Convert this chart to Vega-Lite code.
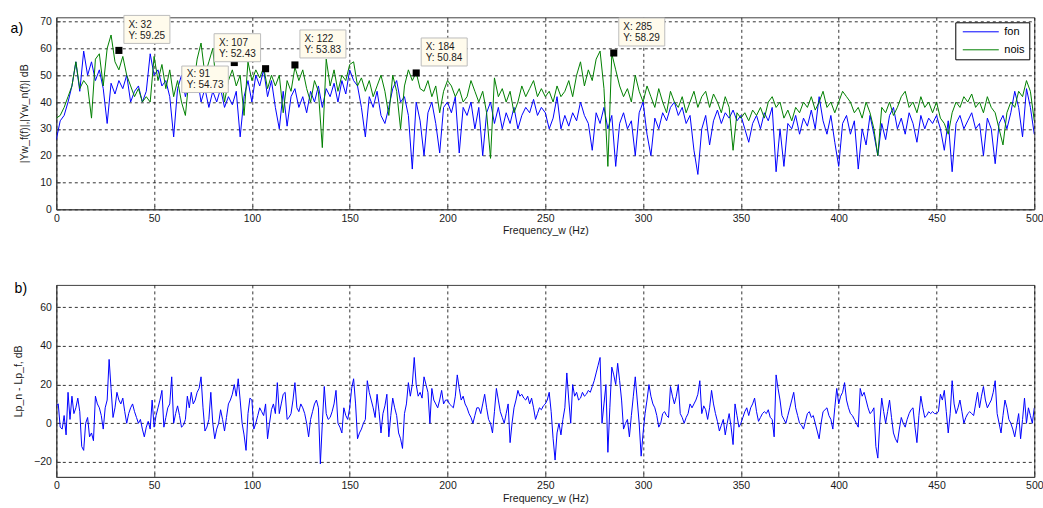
{
"$schema":"https://vega.github.io/schema/vega-lite/v6.json",
"padding":{"left":9.3,"top":12.3,"right":0,"bottom":0},
"spacing":75.6,
"bounds":"flush",
"datasets":{
"spec":[{"f":0,"fon":26,"nois":34},{"f":2,"fon":33,"nois":35},{"f":4,"fon":35,"nois":38},{"f":6,"fon":40,"nois":42},{"f":8,"fon":46,"nois":46},{"f":10,"fon":55,"nois":55},{"f":12,"fon":44,"nois":45},{"f":14,"fon":59,"nois":48},{"f":16,"fon":50,"nois":46},{"f":18,"fon":55,"nois":34},{"f":20,"fon":48,"nois":56},{"f":22,"fon":52,"nois":58},{"f":24,"fon":45,"nois":46},{"f":26,"fon":32,"nois":60},{"f":28,"fon":47,"nois":65},{"f":30,"fon":43,"nois":55},{"f":32,"fon":48,"nois":52},{"f":34,"fon":45,"nois":57},{"f":36,"fon":50,"nois":50},{"f":38,"fon":40,"nois":46},{"f":40,"fon":44,"nois":42},{"f":42,"fon":46,"nois":45},{"f":44,"fon":40,"nois":40},{"f":46,"fon":44,"nois":42},{"f":48,"fon":58,"nois":40},{"f":50,"fon":50,"nois":57},{"f":52,"fon":52,"nois":48},{"f":54,"fon":46,"nois":54},{"f":56,"fon":48,"nois":45},{"f":58,"fon":42,"nois":52},{"f":60,"fon":27,"nois":42},{"f":62,"fon":45,"nois":48},{"f":64,"fon":50,"nois":40},{"f":66,"fon":42,"nois":35},{"f":68,"fon":48,"nois":50},{"f":70,"fon":44,"nois":45},{"f":72,"fon":50,"nois":56},{"f":74,"fon":40,"nois":62},{"f":76,"fon":45,"nois":50},{"f":78,"fon":38,"nois":55},{"f":80,"fon":44,"nois":60},{"f":82,"fon":40,"nois":45},{"f":84,"fon":45,"nois":52},{"f":86,"fon":38,"nois":40},{"f":88,"fon":42,"nois":48},{"f":90,"fon":39,"nois":52},{"f":92,"fon":44,"nois":46},{"f":94,"fon":27,"nois":50},{"f":96,"fon":42,"nois":35},{"f":98,"fon":48,"nois":55},{"f":100,"fon":40,"nois":48},{"f":102,"fon":50,"nois":52},{"f":104,"fon":46,"nois":49},{"f":106,"fon":52,"nois":53},{"f":108,"fon":42,"nois":45},{"f":110,"fon":48,"nois":50},{"f":112,"fon":38,"nois":46},{"f":114,"fon":30,"nois":50},{"f":116,"fon":44,"nois":36},{"f":118,"fon":31,"nois":48},{"f":120,"fon":42,"nois":44},{"f":122,"fon":45,"nois":53},{"f":124,"fon":38,"nois":48},{"f":126,"fon":42,"nois":52},{"f":128,"fon":36,"nois":45},{"f":130,"fon":44,"nois":40},{"f":132,"fon":40,"nois":48},{"f":134,"fon":46,"nois":44},{"f":136,"fon":38,"nois":23},{"f":138,"fon":45,"nois":56},{"f":140,"fon":42,"nois":46},{"f":142,"fon":47,"nois":52},{"f":144,"fon":40,"nois":44},{"f":146,"fon":48,"nois":50},{"f":148,"fon":43,"nois":48},{"f":150,"fon":52,"nois":54},{"f":152,"fon":48,"nois":55},{"f":154,"fon":46,"nois":46},{"f":156,"fon":38,"nois":49},{"f":158,"fon":27,"nois":44},{"f":160,"fon":42,"nois":48},{"f":162,"fon":38,"nois":42},{"f":164,"fon":44,"nois":46},{"f":166,"fon":35,"nois":50},{"f":168,"fon":32,"nois":44},{"f":170,"fon":38,"nois":35},{"f":172,"fon":45,"nois":50},{"f":174,"fon":48,"nois":44},{"f":176,"fon":40,"nois":30},{"f":178,"fon":42,"nois":46},{"f":180,"fon":35,"nois":52},{"f":182,"fon":15,"nois":48},{"f":184,"fon":40,"nois":51},{"f":186,"fon":33,"nois":45},{"f":188,"fon":20,"nois":44},{"f":190,"fon":36,"nois":48},{"f":192,"fon":40,"nois":42},{"f":194,"fon":32,"nois":46},{"f":196,"fon":21,"nois":36},{"f":198,"fon":38,"nois":44},{"f":200,"fon":40,"nois":48},{"f":202,"fon":36,"nois":46},{"f":204,"fon":42,"nois":42},{"f":206,"fon":21,"nois":45},{"f":208,"fon":38,"nois":40},{"f":210,"fon":35,"nois":42},{"f":212,"fon":40,"nois":48},{"f":214,"fon":30,"nois":44},{"f":216,"fon":38,"nois":40},{"f":218,"fon":20,"nois":44},{"f":220,"fon":36,"nois":36},{"f":222,"fon":40,"nois":19},{"f":224,"fon":32,"nois":49},{"f":226,"fon":38,"nois":42},{"f":228,"fon":30,"nois":45},{"f":230,"fon":36,"nois":40},{"f":232,"fon":32,"nois":44},{"f":234,"fon":38,"nois":36},{"f":236,"fon":30,"nois":40},{"f":238,"fon":35,"nois":46},{"f":240,"fon":38,"nois":42},{"f":242,"fon":36,"nois":45},{"f":244,"fon":41,"nois":48},{"f":246,"fon":35,"nois":42},{"f":248,"fon":38,"nois":45},{"f":250,"fon":36,"nois":42},{"f":252,"fon":30,"nois":44},{"f":254,"fon":34,"nois":40},{"f":256,"fon":42,"nois":46},{"f":258,"fon":30,"nois":42},{"f":260,"fon":35,"nois":44},{"f":262,"fon":31,"nois":48},{"f":264,"fon":36,"nois":42},{"f":266,"fon":33,"nois":50},{"f":268,"fon":40,"nois":55},{"f":270,"fon":35,"nois":46},{"f":272,"fon":32,"nois":52},{"f":274,"fon":22,"nois":48},{"f":276,"fon":36,"nois":56},{"f":278,"fon":32,"nois":59},{"f":280,"fon":38,"nois":45},{"f":282,"fon":30,"nois":16},{"f":284,"fon":35,"nois":58},{"f":286,"fon":16,"nois":52},{"f":288,"fon":32,"nois":46},{"f":290,"fon":36,"nois":42},{"f":292,"fon":30,"nois":45},{"f":294,"fon":33,"nois":40},{"f":296,"fon":20,"nois":50},{"f":298,"fon":36,"nois":44},{"f":300,"fon":40,"nois":40},{"f":302,"fon":28,"nois":46},{"f":304,"fon":20,"nois":42},{"f":306,"fon":34,"nois":38},{"f":308,"fon":30,"nois":45},{"f":310,"fon":36,"nois":40},{"f":312,"fon":33,"nois":36},{"f":314,"fon":38,"nois":44},{"f":316,"fon":40,"nois":40},{"f":318,"fon":35,"nois":38},{"f":320,"fon":38,"nois":42},{"f":322,"fon":32,"nois":36},{"f":324,"fon":35,"nois":40},{"f":326,"fon":22,"nois":44},{"f":328,"fon":13,"nois":38},{"f":330,"fon":30,"nois":42},{"f":332,"fon":35,"nois":44},{"f":334,"fon":24,"nois":38},{"f":336,"fon":33,"nois":43},{"f":338,"fon":37,"nois":40},{"f":340,"fon":32,"nois":36},{"f":342,"fon":36,"nois":42},{"f":344,"fon":34,"nois":38},{"f":346,"fon":37,"nois":22},{"f":348,"fon":33,"nois":36},{"f":350,"fon":35,"nois":34},{"f":352,"fon":30,"nois":36},{"f":354,"fon":25,"nois":33},{"f":356,"fon":32,"nois":37},{"f":358,"fon":35,"nois":35},{"f":360,"fon":30,"nois":38},{"f":362,"fon":36,"nois":34},{"f":364,"fon":33,"nois":40},{"f":366,"fon":38,"nois":42},{"f":368,"fon":14,"nois":38},{"f":370,"fon":30,"nois":40},{"f":372,"fon":16,"nois":34},{"f":374,"fon":32,"nois":37},{"f":376,"fon":30,"nois":33},{"f":378,"fon":35,"nois":38},{"f":380,"fon":28,"nois":36},{"f":382,"fon":34,"nois":40},{"f":384,"fon":31,"nois":38},{"f":386,"fon":37,"nois":42},{"f":388,"fon":30,"nois":37},{"f":390,"fon":42,"nois":40},{"f":392,"fon":33,"nois":44},{"f":394,"fon":28,"nois":38},{"f":396,"fon":35,"nois":40},{"f":398,"fon":25,"nois":36},{"f":400,"fon":16,"nois":40},{"f":402,"fon":32,"nois":44},{"f":404,"fon":35,"nois":42},{"f":406,"fon":28,"nois":40},{"f":408,"fon":33,"nois":36},{"f":410,"fon":15,"nois":38},{"f":412,"fon":30,"nois":34},{"f":414,"fon":24,"nois":40},{"f":416,"fon":35,"nois":36},{"f":418,"fon":28,"nois":30},{"f":420,"fon":20,"nois":20},{"f":422,"fon":32,"nois":38},{"f":424,"fon":26,"nois":36},{"f":426,"fon":35,"nois":40},{"f":428,"fon":38,"nois":35},{"f":430,"fon":30,"nois":38},{"f":432,"fon":34,"nois":42},{"f":434,"fon":28,"nois":44},{"f":436,"fon":36,"nois":38},{"f":438,"fon":32,"nois":40},{"f":440,"fon":25,"nois":36},{"f":442,"fon":35,"nois":42},{"f":444,"fon":30,"nois":38},{"f":446,"fon":34,"nois":40},{"f":448,"fon":32,"nois":36},{"f":450,"fon":35,"nois":40},{"f":452,"fon":30,"nois":34},{"f":454,"fon":22,"nois":32},{"f":456,"fon":33,"nois":28},{"f":458,"fon":14,"nois":36},{"f":460,"fon":32,"nois":40},{"f":462,"fon":35,"nois":38},{"f":464,"fon":30,"nois":42},{"f":466,"fon":33,"nois":40},{"f":468,"fon":36,"nois":43},{"f":470,"fon":30,"nois":38},{"f":472,"fon":32,"nois":40},{"f":474,"fon":20,"nois":36},{"f":476,"fon":34,"nois":42},{"f":478,"fon":30,"nois":38},{"f":480,"fon":17,"nois":36},{"f":482,"fon":32,"nois":30},{"f":484,"fon":35,"nois":24},{"f":486,"fon":30,"nois":36},{"f":488,"fon":36,"nois":40},{"f":490,"fon":44,"nois":38},{"f":492,"fon":38,"nois":44},{"f":494,"fon":27,"nois":42},{"f":496,"fon":45,"nois":48},{"f":498,"fon":38,"nois":44},{"f":500,"fon":28,"nois":33}],
"tips":[{"f":32,"value":59.25},{"f":91,"value":54.73},{"f":107,"value":52.43},{"f":122,"value":53.83},{"f":184,"value":50.84},{"f":285,"value":58.29}],
"panel_a":[{"lab":"a)"}],
"panel_b":[{"lab":"b)"}],
"diff":[{"f":0,"d":9},{"f":1,"d":10},{"f":2,"d":-2},{"f":3,"d":-3},{"f":4,"d":4},{"f":5,"d":-6},{"f":6,"d":16},{"f":7,"d":2},{"f":8,"d":14},{"f":9,"d":5},{"f":10,"d":8},{"f":11,"d":13},{"f":12,"d":6},{"f":13,"d":-12},{"f":14,"d":-14},{"f":15,"d":0},{"f":16,"d":3},{"f":17,"d":-7},{"f":18,"d":-5},{"f":19,"d":-9},{"f":20,"d":14},{"f":21,"d":10},{"f":22,"d":8},{"f":23,"d":4},{"f":24,"d":-3},{"f":25,"d":8},{"f":26,"d":12},{"f":27,"d":33},{"f":28,"d":18},{"f":29,"d":3},{"f":30,"d":8},{"f":31,"d":16},{"f":32,"d":12},{"f":33,"d":10},{"f":34,"d":13},{"f":35,"d":6},{"f":36,"d":0},{"f":37,"d":5},{"f":38,"d":8},{"f":39,"d":10},{"f":40,"d":6},{"f":41,"d":3},{"f":42,"d":0},{"f":43,"d":2},{"f":44,"d":-3},{"f":45,"d":-7},{"f":46,"d":-2},{"f":47,"d":1},{"f":48,"d":-3},{"f":49,"d":12},{"f":50,"d":-2},{"f":51,"d":4},{"f":52,"d":8},{"f":53,"d":12},{"f":54,"d":17},{"f":55,"d":-2},{"f":56,"d":3},{"f":57,"d":8},{"f":58,"d":10},{"f":59,"d":24},{"f":60,"d":0},{"f":61,"d":5},{"f":62,"d":9},{"f":63,"d":4},{"f":64,"d":-2},{"f":65,"d":-1},{"f":66,"d":2},{"f":67,"d":14},{"f":68,"d":8},{"f":69,"d":16},{"f":70,"d":10},{"f":71,"d":12},{"f":72,"d":16},{"f":73,"d":18},{"f":74,"d":24},{"f":75,"d":8},{"f":76,"d":-4},{"f":77,"d":-2},{"f":78,"d":2},{"f":79,"d":16},{"f":80,"d":0},{"f":81,"d":-8},{"f":82,"d":-3},{"f":83,"d":0},{"f":84,"d":7},{"f":85,"d":2},{"f":86,"d":-4},{"f":87,"d":3},{"f":88,"d":10},{"f":89,"d":12},{"f":90,"d":15},{"f":91,"d":20},{"f":92,"d":14},{"f":93,"d":23},{"f":94,"d":12},{"f":95,"d":0},{"f":96,"d":-6},{"f":97,"d":-14},{"f":98,"d":5},{"f":99,"d":13},{"f":100,"d":12},{"f":101,"d":-3},{"f":102,"d":0},{"f":103,"d":4},{"f":104,"d":8},{"f":105,"d":6},{"f":106,"d":4},{"f":107,"d":10},{"f":108,"d":-8},{"f":109,"d":0},{"f":110,"d":7},{"f":111,"d":10},{"f":112,"d":5},{"f":113,"d":21},{"f":114,"d":5},{"f":115,"d":10},{"f":116,"d":15},{"f":117,"d":16},{"f":118,"d":2},{"f":119,"d":3},{"f":120,"d":5},{"f":121,"d":12},{"f":122,"d":21},{"f":123,"d":8},{"f":124,"d":6},{"f":125,"d":10},{"f":126,"d":8},{"f":127,"d":5},{"f":128,"d":0},{"f":129,"d":-7},{"f":130,"d":2},{"f":131,"d":6},{"f":132,"d":10},{"f":133,"d":12},{"f":134,"d":8},{"f":135,"d":-21},{"f":136,"d":0},{"f":137,"d":19},{"f":138,"d":5},{"f":139,"d":2},{"f":140,"d":3},{"f":141,"d":6},{"f":142,"d":10},{"f":143,"d":17},{"f":144,"d":0},{"f":145,"d":-2},{"f":146,"d":-5},{"f":147,"d":8},{"f":148,"d":4},{"f":149,"d":2},{"f":150,"d":8},{"f":151,"d":18},{"f":152,"d":23},{"f":153,"d":10},{"f":154,"d":-8},{"f":155,"d":-5},{"f":156,"d":-3},{"f":157,"d":0},{"f":158,"d":2},{"f":159,"d":22},{"f":160,"d":16},{"f":161,"d":12},{"f":162,"d":8},{"f":163,"d":3},{"f":164,"d":15},{"f":165,"d":6},{"f":166,"d":-5},{"f":167,"d":5},{"f":168,"d":9},{"f":169,"d":15},{"f":170,"d":-7},{"f":171,"d":4},{"f":172,"d":13},{"f":173,"d":8},{"f":174,"d":4},{"f":175,"d":-5},{"f":176,"d":-8},{"f":177,"d":-13},{"f":178,"d":5},{"f":179,"d":10},{"f":180,"d":21},{"f":181,"d":14},{"f":182,"d":20},{"f":183,"d":34},{"f":184,"d":20},{"f":185,"d":14},{"f":186,"d":16},{"f":187,"d":13},{"f":188,"d":24},{"f":189,"d":20},{"f":190,"d":16},{"f":191,"d":0},{"f":192,"d":18},{"f":193,"d":12},{"f":194,"d":10},{"f":195,"d":8},{"f":196,"d":12},{"f":197,"d":17},{"f":198,"d":10},{"f":199,"d":12},{"f":200,"d":12},{"f":201,"d":10},{"f":202,"d":9},{"f":203,"d":8},{"f":204,"d":14},{"f":205,"d":25},{"f":206,"d":18},{"f":207,"d":12},{"f":208,"d":14},{"f":209,"d":10},{"f":210,"d":8},{"f":211,"d":5},{"f":212,"d":3},{"f":213,"d":0},{"f":214,"d":4},{"f":215,"d":8},{"f":216,"d":8},{"f":217,"d":5},{"f":218,"d":10},{"f":219,"d":15},{"f":220,"d":8},{"f":221,"d":2},{"f":222,"d":0},{"f":223,"d":-5},{"f":224,"d":6},{"f":225,"d":18},{"f":226,"d":12},{"f":227,"d":6},{"f":228,"d":3},{"f":229,"d":0},{"f":230,"d":5},{"f":231,"d":10},{"f":232,"d":-10},{"f":233,"d":0},{"f":234,"d":8},{"f":235,"d":12},{"f":236,"d":17},{"f":237,"d":14},{"f":238,"d":15},{"f":239,"d":13},{"f":240,"d":12},{"f":241,"d":14},{"f":242,"d":10},{"f":243,"d":13},{"f":244,"d":8},{"f":245,"d":2},{"f":246,"d":5},{"f":247,"d":8},{"f":248,"d":7},{"f":249,"d":9},{"f":250,"d":10},{"f":251,"d":12},{"f":252,"d":16},{"f":253,"d":6},{"f":254,"d":-8},{"f":255,"d":-19},{"f":256,"d":-5},{"f":257,"d":0},{"f":258,"d":-6},{"f":259,"d":2},{"f":260,"d":8},{"f":261,"d":26},{"f":262,"d":12},{"f":263,"d":0},{"f":264,"d":20},{"f":265,"d":14},{"f":266,"d":16},{"f":267,"d":12},{"f":268,"d":13},{"f":269,"d":16},{"f":270,"d":14},{"f":271,"d":15},{"f":272,"d":17},{"f":273,"d":16},{"f":274,"d":19},{"f":275,"d":22},{"f":276,"d":26},{"f":277,"d":30},{"f":278,"d":34},{"f":279,"d":0},{"f":280,"d":10},{"f":281,"d":20},{"f":282,"d":-15},{"f":283,"d":8},{"f":284,"d":29},{"f":285,"d":25},{"f":286,"d":20},{"f":287,"d":31},{"f":288,"d":22},{"f":289,"d":12},{"f":290,"d":-3},{"f":291,"d":0},{"f":292,"d":2},{"f":293,"d":-7},{"f":294,"d":4},{"f":295,"d":14},{"f":296,"d":24},{"f":297,"d":12},{"f":298,"d":0},{"f":299,"d":-17},{"f":300,"d":-5},{"f":301,"d":5},{"f":302,"d":12},{"f":303,"d":20},{"f":304,"d":14},{"f":305,"d":10},{"f":306,"d":8},{"f":307,"d":4},{"f":308,"d":-2},{"f":309,"d":0},{"f":310,"d":5},{"f":311,"d":6},{"f":312,"d":4},{"f":313,"d":3},{"f":314,"d":19},{"f":315,"d":14},{"f":316,"d":10},{"f":317,"d":14},{"f":318,"d":20},{"f":319,"d":5},{"f":320,"d":3},{"f":321,"d":0},{"f":322,"d":3},{"f":323,"d":5},{"f":324,"d":10},{"f":325,"d":8},{"f":326,"d":10},{"f":327,"d":12},{"f":328,"d":15},{"f":329,"d":22},{"f":330,"d":5},{"f":331,"d":9},{"f":332,"d":7},{"f":333,"d":2},{"f":334,"d":8},{"f":335,"d":17},{"f":336,"d":10},{"f":337,"d":5},{"f":338,"d":1},{"f":339,"d":-4},{"f":340,"d":-1},{"f":341,"d":2},{"f":342,"d":-6},{"f":343,"d":0},{"f":344,"d":5},{"f":345,"d":-2},{"f":346,"d":-11},{"f":347,"d":10},{"f":348,"d":4},{"f":349,"d":-2},{"f":350,"d":0},{"f":351,"d":3},{"f":352,"d":6},{"f":353,"d":8},{"f":354,"d":4},{"f":355,"d":8},{"f":356,"d":10},{"f":357,"d":13},{"f":358,"d":6},{"f":359,"d":1},{"f":360,"d":3},{"f":361,"d":5},{"f":362,"d":6},{"f":363,"d":5},{"f":364,"d":7},{"f":365,"d":3},{"f":366,"d":2},{"f":367,"d":-7},{"f":368,"d":25},{"f":369,"d":18},{"f":370,"d":12},{"f":371,"d":4},{"f":372,"d":2},{"f":373,"d":0},{"f":374,"d":4},{"f":375,"d":8},{"f":376,"d":12},{"f":377,"d":16},{"f":378,"d":8},{"f":379,"d":4},{"f":380,"d":0},{"f":381,"d":-1},{"f":382,"d":-3},{"f":383,"d":1},{"f":384,"d":5},{"f":385,"d":6},{"f":386,"d":3},{"f":387,"d":4},{"f":388,"d":0},{"f":389,"d":-4},{"f":390,"d":-8},{"f":391,"d":0},{"f":392,"d":6},{"f":393,"d":7},{"f":394,"d":8},{"f":395,"d":4},{"f":396,"d":2},{"f":397,"d":-3},{"f":398,"d":8},{"f":399,"d":18},{"f":400,"d":10},{"f":401,"d":14},{"f":402,"d":16},{"f":403,"d":21},{"f":404,"d":12},{"f":405,"d":8},{"f":406,"d":5},{"f":407,"d":4},{"f":408,"d":2},{"f":409,"d":0},{"f":410,"d":-2},{"f":411,"d":18},{"f":412,"d":14},{"f":413,"d":16},{"f":414,"d":12},{"f":415,"d":8},{"f":416,"d":5},{"f":417,"d":6},{"f":418,"d":8},{"f":419,"d":-12},{"f":420,"d":-18},{"f":421,"d":0},{"f":422,"d":13},{"f":423,"d":6},{"f":424,"d":0},{"f":425,"d":6},{"f":426,"d":12},{"f":427,"d":3},{"f":428,"d":-5},{"f":429,"d":-8},{"f":430,"d":-10},{"f":431,"d":-3},{"f":432,"d":3},{"f":433,"d":0},{"f":434,"d":-2},{"f":435,"d":2},{"f":436,"d":5},{"f":437,"d":7},{"f":438,"d":8},{"f":439,"d":-2},{"f":440,"d":-10},{"f":441,"d":4},{"f":442,"d":14},{"f":443,"d":8},{"f":444,"d":3},{"f":445,"d":4},{"f":446,"d":6},{"f":447,"d":5},{"f":448,"d":6},{"f":449,"d":5},{"f":450,"d":5},{"f":451,"d":6},{"f":452,"d":15},{"f":453,"d":12},{"f":454,"d":17},{"f":455,"d":6},{"f":456,"d":-5},{"f":457,"d":5},{"f":458,"d":22},{"f":459,"d":10},{"f":460,"d":5},{"f":461,"d":8},{"f":462,"d":12},{"f":463,"d":6},{"f":464,"d":0},{"f":465,"d":3},{"f":466,"d":5},{"f":467,"d":6},{"f":468,"d":5},{"f":469,"d":4},{"f":470,"d":10},{"f":471,"d":16},{"f":472,"d":8},{"f":473,"d":14},{"f":474,"d":19},{"f":475,"d":12},{"f":476,"d":8},{"f":477,"d":10},{"f":478,"d":12},{"f":479,"d":16},{"f":480,"d":22},{"f":481,"d":5},{"f":482,"d":0},{"f":483,"d":-5},{"f":484,"d":4},{"f":485,"d":12},{"f":486,"d":8},{"f":487,"d":2},{"f":488,"d":0},{"f":489,"d":-3},{"f":490,"d":-7},{"f":491,"d":-1},{"f":492,"d":5},{"f":493,"d":-8},{"f":494,"d":2},{"f":495,"d":13},{"f":496,"d":0},{"f":497,"d":8},{"f":498,"d":4},{"f":499,"d":0},{"f":500,"d":8}]
},
"vconcat":[
{
"width":978,"height":192,
"layer":[
{
"encoding":{
"x":{"field":"f","type":"quantitative","scale":{"domain":[0,500],"nice":false,"zero":false},"axis":{"values":[0,50,100,150,200,250,300,350,400,450,500],"title":"Frequency_w (Hz)"}},
"y":{"field":"value","type":"quantitative","scale":{"domain":[0,71.6],"nice":false,"zero":false},"axis":{"values":[0,10,20,30,40,50,60,70],"title":"|Yw_f(f)|,|Yw_n(f)| dB"}}
},
"layer":[
{"data":{"name":"spec"},"transform":[{"fold":["fon","nois"],"as":["series","value"]}],
 "mark":{"type":"line","strokeWidth":1,"clip":true},
 "encoding":{"color":{"field":"series","type":"nominal","scale":{"domain":["fon","nois"],"range":["#0000ff","#008000"]},
  "legend":{"orient":"top-right","offset":5,"title":null,"fillColor":"#ffffff","strokeColor":"#000000","padding":4,"symbolType":"M-0.4,0L6.8,0","symbolSize":100,"symbolStrokeWidth":1,"labelOffset":34,"rowPadding":6,"labelFontSize":11,"labelFont":"Liberation Sans","labelColor":"#000000"}}}},
{"data":{"name":"tips"},"mark":{"type":"point","shape":"square","filled":true,"size":50,"color":"#000000","opacity":1}},
{"data":{"name":"tips"},"transform":[{"filter":"datum.f != 107 && datum.f != 91"}],"mark":{"type":"point","shape":"M0.1,-0.7L1.02,-0.7L1.02,-0.14L0.1,-0.14Z","size":10000,"filled":true,"fill":"#fffbec","stroke":"#bdbdbd","strokeWidth":1,"opacity":1}},
{"data":{"name":"tips"},"transform":[{"filter":"datum.f == 91"}],"mark":{"type":"point","shape":"M-1.05,0.07L-0.12,0.07L-0.12,0.6L-1.05,0.6Z","size":10000,"filled":true,"fill":"#fffbec","stroke":"#bdbdbd","strokeWidth":1,"opacity":1}},
{"data":{"name":"tips"},"transform":[{"filter":"datum.f == 107"}],"mark":{"type":"point","shape":"M-1.03,-0.7L-0.1,-0.7L-0.1,-0.14L-1.03,-0.14Z","size":10000,"filled":true,"fill":"#fffbec","stroke":"#bdbdbd","strokeWidth":1,"opacity":1}},
{"data":{"name":"tips"},"transform":[{"filter":"datum.f != 107 && datum.f != 91"},{"calculate":"'X: ' + datum.f","as":"lx"}],"mark":{"type":"text","align":"left","baseline":"middle","dx":9.5,"dy":-25.5,"fontSize":10,"font":"Liberation Sans","color":"#1a1a1a"},"encoding":{"text":{"field":"lx","type":"nominal"}}},
{"data":{"name":"tips"},"transform":[{"filter":"datum.f != 107 && datum.f != 91"},{"calculate":"'Y: ' + format(datum.value, '.2f')","as":"ly"}],"mark":{"type":"text","align":"left","baseline":"middle","dx":9.5,"dy":-14.5,"fontSize":10,"font":"Liberation Sans","color":"#1a1a1a"},"encoding":{"text":{"field":"ly","type":"nominal"}}},
{"data":{"name":"tips"},"transform":[{"filter":"datum.f == 107"},{"calculate":"'X: ' + datum.f","as":"lx"}],"mark":{"type":"text","align":"left","baseline":"middle","dx":-46.5,"dy":-25.5,"fontSize":10,"font":"Liberation Sans","color":"#1a1a1a"},"encoding":{"text":{"field":"lx","type":"nominal"}}},
{"data":{"name":"tips"},"transform":[{"filter":"datum.f == 107"},{"calculate":"'Y: ' + format(datum.value, '.2f')","as":"ly"}],"mark":{"type":"text","align":"left","baseline":"middle","dx":-46.5,"dy":-14.5,"fontSize":10,"font":"Liberation Sans","color":"#1a1a1a"},"encoding":{"text":{"field":"ly","type":"nominal"}}},
{"data":{"name":"tips"},"transform":[{"filter":"datum.f == 91"},{"calculate":"'X: ' + datum.f","as":"lx"}],"mark":{"type":"text","align":"left","baseline":"middle","dx":-47.5,"dy":11.6,"fontSize":10,"font":"Liberation Sans","color":"#1a1a1a"},"encoding":{"text":{"field":"lx","type":"nominal"}}},
{"data":{"name":"tips"},"transform":[{"filter":"datum.f == 91"},{"calculate":"'Y: ' + format(datum.value, '.2f')","as":"ly"}],"mark":{"type":"text","align":"left","baseline":"middle","dx":-47.5,"dy":22.6,"fontSize":10,"font":"Liberation Sans","color":"#1a1a1a"},"encoding":{"text":{"field":"ly","type":"nominal"}}}
]
},
{"data":{"name":"panel_a"},"mark":{"type":"text","align":"left","baseline":"alphabetic","dx":-45.7,"dy":15.3,"fontSize":14,"font":"Liberation Sans","color":"#000000"},
 "encoding":{"x":{"datum":0,"type":"quantitative","axis":{"values":[0,50,100,150,200,250,300,350,400,450,500],"title":"Frequency_w (Hz)"}},"y":{"datum":71.6,"type":"quantitative","axis":{"values":[0,10,20,30,40,50,60,70],"title":"|Yw_f(f)|,|Yw_n(f)| dB"}},"text":{"field":"lab","type":"nominal"}}}
]
},
{
"width":978,"height":192,
"layer":[
{"data":{"name":"diff"},"mark":{"type":"line","color":"#0000ff","strokeWidth":1,"clip":true},
 "encoding":{
 "x":{"field":"f","type":"quantitative","scale":{"domain":[0,500],"nice":false,"zero":false},"axis":{"values":[0,50,100,150,200,250,300,350,400,450,500],"title":"Frequency_w (Hz)"}},
 "y":{"field":"d","type":"quantitative","scale":{"domain":[-27.7,71.5],"nice":false,"zero":false},"axis":{"values":[-20,0,20,40,60],"title":"Lp_n - Lp_f, dB"}}
 }},
{"data":{"name":"panel_b"},"mark":{"type":"text","align":"left","baseline":"alphabetic","dx":-41.7,"dy":8.4,"fontSize":14,"font":"Liberation Sans","color":"#000000"},
 "encoding":{"x":{"datum":0,"type":"quantitative","axis":{"values":[0,50,100,150,200,250,300,350,400,450,500],"title":"Frequency_w (Hz)"}},"y":{"datum":71.5,"type":"quantitative","axis":{"values":[-20,0,20,40,60],"title":"Lp_n - Lp_f, dB"}},"text":{"field":"lab","type":"nominal"}}}
]
}
],
"config":{
"font":"Liberation Sans",
"view":{"stroke":"#404040","strokeWidth":1},
"axis":{"labelFont":"Liberation Sans","labelFontSize":10.5,"labelColor":"#1a1a1a","titleFont":"Liberation Sans","titleFontSize":10.5,"titleFontWeight":"normal","titleColor":"#1a1a1a","domainColor":"#404040","tickColor":"#404040","tickSize":-4,"grid":true,"gridColor":"#000000","gridDash":[3,3],"gridWidth":0.8,"gridOpacity":1,"labelBound":false,"labelOverlap":false,"labelFlush":false},
"axisX":{"labelPadding":8,"titlePadding":2},
"axisY":{"labelPadding":9,"titlePadding":10}
}
}
